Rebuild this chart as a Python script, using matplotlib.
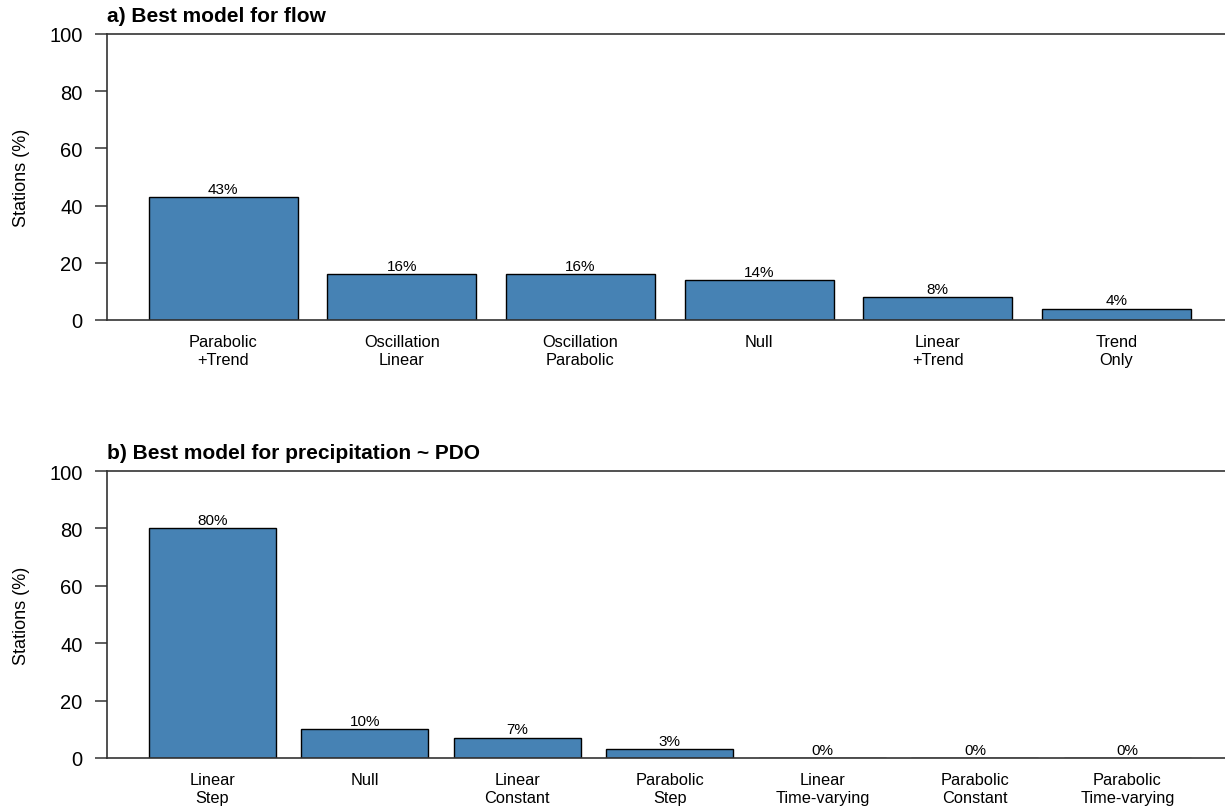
import numpy as np
import matplotlib.pyplot as plt

plt.rcParams['font.family'] = ['Liberation Sans', 'DejaVu Sans']

# Panel a: best model for flow
flow_models = ["Parabolic\n+Trend", "Oscillation\nLinear", "Oscillation\nParabolic",
               "Null", "Linear\n+Trend", "Trend\nOnly"]
flow_pct = [43, 16, 16, 14, 8, 4]

# Panel b: best model for precipitation ~ PDO
precip_models = ["Linear\nStep", "Null", "Linear\nConstant", "Parabolic\nStep",
                 "Linear\nTime-varying", "Parabolic\nConstant", "Parabolic\nTime-varying"]
precip_pct = [80, 10, 7, 3, 0, 0, 0]

BAR_COLOR = "#4682B4"
LINE_COLOR = "#333333"


def barplot(ax, labels, values, title):
    # bar layout like R's barplot: width 1, space 0.2
    n = len(values)
    centers = 0.7 + 1.2 * np.arange(n)
    ax.bar(centers, values, width=1.0, color=BAR_COLOR, edgecolor="black", linewidth=1.0)
    for x, v in zip(centers, values):
        ax.text(x, v + 0.5, f"{v}%", ha="center", va="bottom", fontsize=11)
    lo, hi = 0.2, 1.2 * n
    pad = 0.04 * (hi - lo)
    ax.set_xlim(lo - pad, hi + pad)
    ax.set_ylim(0, 100)
    ax.set_yticks([0, 20, 40, 60, 80, 100])
    ax.set_xticks(centers)
    ax.set_xticklabels(labels, fontsize=11.8, linespacing=1.25)
    ax.tick_params(axis="x", length=0, pad=10)
    ax.tick_params(axis="y", length=8.6, width=1.1, color=LINE_COLOR, pad=9, labelsize=14.5)
    ax.spines["right"].set_visible(False)
    for s in ("left", "top", "bottom"):
        ax.spines[s].set_color(LINE_COLOR)
        ax.spines[s].set_linewidth(1.2)
    ax.set_ylabel("Stations (%)", fontsize=13, labelpad=14)
    ax.text(0.0, 1.03, title, transform=ax.transAxes, ha="left", va="bottom",
            fontsize=15, fontweight="bold")


fig = plt.figure(figsize=(12.25, 8.12), dpi=100)
ax_a = fig.add_axes([0.0873, 0.6047, 0.919, 0.3522])
ax_b = fig.add_axes([0.0873, 0.0653, 0.919, 0.3534])

barplot(ax_a, flow_models, flow_pct, "a) Best model for flow")
barplot(ax_b, precip_models, precip_pct, "b) Best model for precipitation ~ PDO")

fig.savefig("out.png", dpi=100)
